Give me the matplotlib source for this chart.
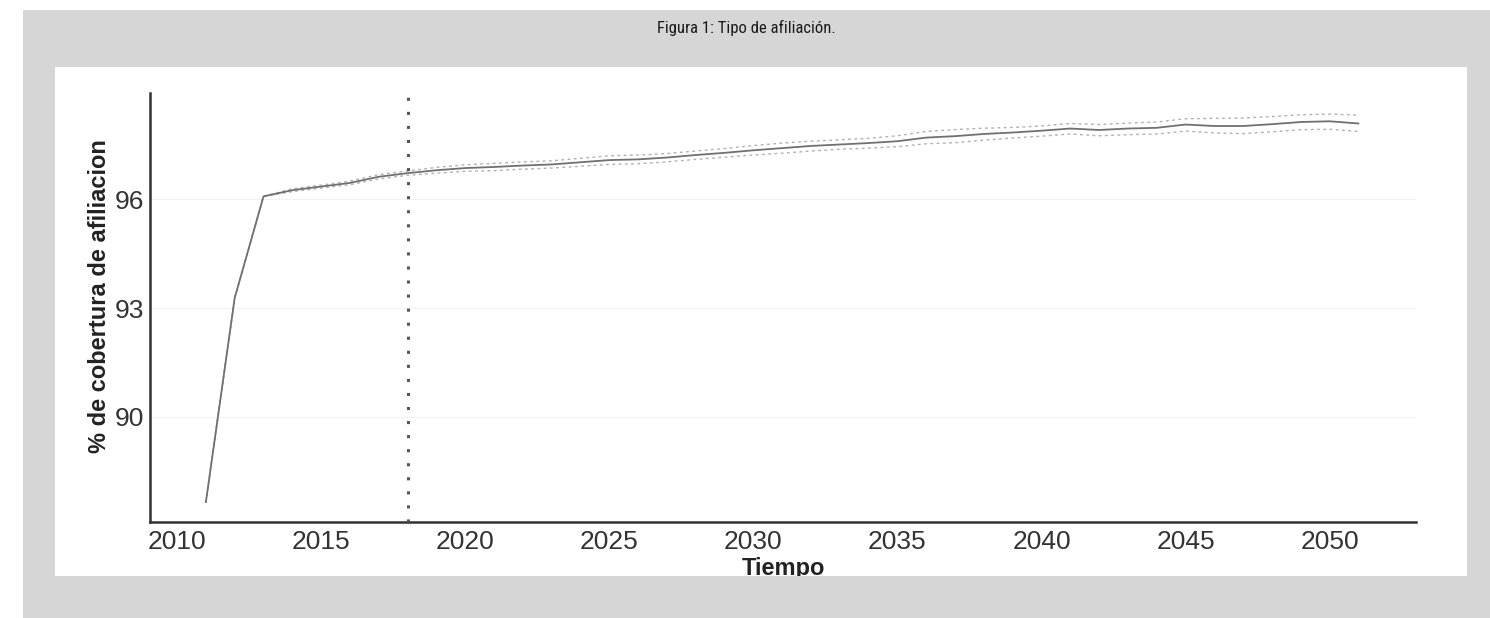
import matplotlib
matplotlib.use("Agg")
import matplotlib.pyplot as plt
from matplotlib.patches import Rectangle

# datos
years = list(range(2011, 2052))
cobertura = [87.65, 93.28, 96.08, 96.25, 96.35, 96.45, 96.62, 96.72, 96.80, 96.86,
             96.89, 96.93, 96.96, 97.02, 97.08, 97.10, 97.15, 97.22, 97.28, 97.35,
             97.41, 97.47, 97.51, 97.55, 97.60, 97.70, 97.74, 97.80, 97.84, 97.89,
             97.95, 97.91, 97.95, 97.97, 98.06, 98.02, 98.02, 98.07, 98.13, 98.15,
             98.09]
superior = [87.65, 93.28, 96.08, 96.29, 96.39, 96.50, 96.68, 96.78, 96.88, 96.95,
            96.99, 97.03, 97.06, 97.13, 97.20, 97.22, 97.26, 97.33, 97.40, 97.48,
            97.55, 97.60, 97.64, 97.68, 97.75, 97.87, 97.92, 97.96, 97.98, 98.02,
            98.09, 98.06, 98.10, 98.13, 98.22, 98.23, 98.24, 98.28, 98.33, 98.35,
            98.32]
inferior = [87.65, 93.28, 96.08, 96.21, 96.31, 96.40, 96.56, 96.66, 96.72, 96.77,
            96.79, 96.83, 96.86, 96.91, 96.96, 96.98, 97.03, 97.10, 97.16, 97.22,
            97.27, 97.33, 97.38, 97.41, 97.45, 97.53, 97.56, 97.63, 97.69, 97.74,
            97.80, 97.75, 97.78, 97.80, 97.88, 97.83, 97.81, 97.86, 97.92, 97.93,
            97.87]
anio_corte = 2018
xticks = [2010, 2015, 2020, 2025, 2030, 2035, 2040, 2045, 2050]
yticks = [90, 93, 96]

W, H = 1490, 618
fig = plt.figure(figsize=(W / 100, H / 100), dpi=100)
fig.patch.set_facecolor("white")

# fondo gris y panel blanco
fig.patches.append(Rectangle((23 / W, 0), 1 - 23 / W, 1 - 10 / H,
                             transform=fig.transFigure, facecolor="#d6d6d6",
                             edgecolor="none", zorder=-10))
panel = Rectangle((55 / W, 1 - 576 / H), (1467 - 55) / W, (576 - 67) / H,
                  transform=fig.transFigure, facecolor="white",
                  edgecolor="none", zorder=-9)
fig.patches.append(panel)

fig.text(746 / W, 1 - 28 / H, "Figura 1: Tipo de afiliación.",
         family=["Roboto Condensed", "Liberation Sans Narrow", "Roboto"],
         fontsize=12, ha="center", va="center", color="#1a1a1a")

ax = fig.add_axes([150 / W, 1 - 522 / H, (1416 - 150) / W, (522 - 93) / H])
ax.set_facecolor("none")

for y in yticks:
    ax.axhline(y, color="#f2f2f2", lw=0.8, zorder=0)

ax.plot(years, superior, color="#b0b0b0", lw=1.0, ls=(0, (2, 2.5)), zorder=2)
ax.plot(years, inferior, color="#b0b0b0", lw=1.0, ls=(0, (2, 2.5)), zorder=2)
ax.plot(years, cobertura, color="#707070", lw=1.3, zorder=3)
ax.axvline(anio_corte, color="#555555", lw=2.2, ls=(0, (1, 3.6)), zorder=4)

ax.set_xlim(2009.06, 2053.0)
ax.set_ylim(87.1, 98.93)
ax.set_xticks(xticks)
ax.set_yticks(yticks)

for side in ["top", "right"]:
    ax.spines[side].set_visible(False)
for side in ["left", "bottom"]:
    ax.spines[side].set_color("#333333")
    ax.spines[side].set_linewidth(1.8)

ax.tick_params(axis="x", length=0, pad=6, labelsize=19, labelcolor="#333333")
ax.tick_params(axis="y", length=0, pad=4, labelsize=19, labelcolor="#333333")
for lab in ax.get_xticklabels() + ax.get_yticklabels():
    lab.set_family("Liberation Sans")

fig.text(100 / W, 1 - 296 / H, "% de cobertura de afiliacion",
         family="Liberation Sans", fontsize=17, fontweight="bold",
         rotation=90, ha="center", va="center", color="#222222")
t = fig.text(783 / W, 1 - 575 / H, "Tiempo", family="Liberation Sans",
             fontsize=17, fontweight="bold", ha="center", va="baseline",
             color="#222222")
t.set_clip_path(panel)

fig.savefig("out.png", dpi=100)
